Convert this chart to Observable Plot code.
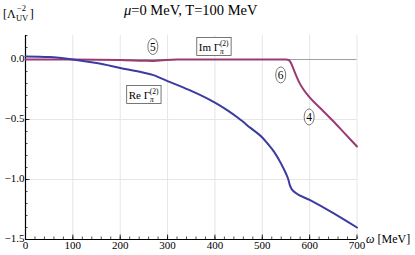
<!DOCTYPE html>
<html><head><meta charset="utf-8">
<script src="https://cdn.jsdelivr.net/npm/d3@7"></script>
<script src="https://cdn.jsdelivr.net/npm/@observablehq/plot@0.6"></script>
<style>body{margin:0;background:#fff}svg{display:block}</style>
</head><body><div id="chart"></div>
<script>
// Re Γπ(2) (blue)
const reOmega = [0, 50, 100, 150, 200, 250, 270, 300, 325, 350, 375, 400, 425, 450, 475, 500, 511, 525, 540, 550, 555, 558, 562, 570, 600, 650, 700];
const reValue = [0.025, 0.02, 0.0, -0.03, -0.07, -0.11, -0.13, -0.18, -0.22, -0.262, -0.308, -0.36, -0.42, -0.49, -0.57, -0.65, -0.70, -0.77, -0.87, -0.95, -1.0, -1.045, -1.08, -1.11, -1.17, -1.28, -1.40];
// Im Γπ(2) (purple)
const imOmega = [0, 100, 200, 250, 270, 290, 320, 400, 500, 550, 556, 560, 565, 570, 575, 580, 587, 600, 625, 650, 675, 700];
const imValue = [0, 0, -0.004, -0.01, -0.012, -0.006, 0, 0, 0, 0, -0.004, -0.025, -0.07, -0.12, -0.165, -0.205, -0.25, -0.315, -0.415, -0.515, -0.62, -0.725];
// ticks
const xTicks = [0, 100, 200, 300, 400, 500, 600, 700];
const xMinor = d3.range(0, 701, 20);
const yTicks = [0, -0.5, -1.0, -1.5];
const yMinor = d3.range(-15, 3, 1).map(d => d / 10);
// annotations (data coordinates)
const circleLabels = ["5", "6", "4"];
const circleOmega = [270, 540, 600];
const circleValue = [0.104, -0.133, -0.483];
const boxLabels = ["Im", "Re"];
const boxOmega = [399, 251];
const boxValue = [0.104, -0.296];

const re = reOmega.map((x, i) => ({x, y: reValue[i]}));
const im = imOmega.map((x, i) => ({x, y: imValue[i]}));
const W = 415, H = 255, mL = 25, mR = 58.5, mT = 35, mB = 16;
const pw = W - mL - mR, ph = H - mT - mB;
const font = "'Liberation Serif', 'Times New Roman', serif";

const plot = Plot.plot({
  width: W, height: H,
  marginLeft: mL, marginRight: mR, marginTop: mT, marginBottom: mB,
  style: {fontFamily: font, fontSize: "11px", background: "#fff"},
  x: {domain: [0, 700]},
  y: {domain: [-1.5, 0.2]},
  marks: [
    Plot.gridX(xTicks.slice(1), {stroke: "#e6e6e6", strokeOpacity: 1}),
    Plot.gridY([-0.5, -1.0], {stroke: "#e6e6e6", strokeOpacity: 1}),
    Plot.ruleY([0], {stroke: "#a0a0a0", strokeWidth: 1}),
    Plot.tickX(xMinor, {x: d => d, insetTop: ph - 2.5, stroke: "#000", strokeWidth: 0.7}),
    Plot.tickX(xTicks, {x: d => d, insetTop: ph - 4.5, stroke: "#000", strokeWidth: 0.8}),
    Plot.tickY(yMinor, {y: d => d, insetRight: pw - 2.5, stroke: "#000", strokeWidth: 0.7}),
    Plot.tickY(yTicks, {y: d => d, insetRight: pw - 4.5, stroke: "#000", strokeWidth: 0.8}),
    Plot.ruleX([0], {stroke: "#000", strokeWidth: 1.2}),
    Plot.ruleY([-1.5], {stroke: "#000", strokeWidth: 1.2}),
    Plot.axisX(xTicks, {tickSize: 0, tickPadding: 2, fontSize: 11, label: null, fill: "#000"}),
    Plot.axisY(yTicks, {tickSize: 0, tickPadding: 1, fontSize: 11, label: null, fill: "#000", dy: -1, tickFormat: d3.format(".1f")}),
    Plot.line(im, {x: "x", y: "y", stroke: "#9b3a70", strokeWidth: 2, curve: "monotone-x"}),
    Plot.line(re, {x: "x", y: "y", stroke: "#3b3ca0", strokeWidth: 2, curve: "monotone-x"})
  ]
});
document.getElementById("chart").appendChild(plot);
const svg = d3.select(plot);
const sx = plot.scale("x"), sy = plot.scale("y");
const txt = (x, y, size) => svg.append("text").attr("x", x).attr("y", y)
  .attr("text-anchor", "start").attr("font-family", font).attr("font-size", size)
  .attr("font-weight", "normal").attr("fill", "#000");

// title, centred over the plot frame
const title = txt(mL + pw / 2, 15, 14.5).attr("text-anchor", "middle");
title.append("tspan").attr("font-style", "italic").text("μ");
title.append("tspan").text("=0 MeV, T=100 MeV");

// y label [Λ_UV^-2]
const yl1 = txt(3, 18, 12).text("[Λ");
const e1 = yl1.node().getBBox();
const ylSub = txt(e1.x + e1.width, 21, 8.5).text("UV");
const ylSup = txt(e1.x + e1.width + 1, 11, 8.5).text("−2");
const e2 = ylSub.node().getBBox(), e3 = ylSup.node().getBBox();
txt(Math.max(e2.x + e2.width, e3.x + e3.width) + 0.5, 18, 12).text("]");

// x label
const xl = txt(366, 243, 12);
xl.append("tspan").attr("font-style", "italic").text("ω");
xl.append("tspan").text(" [MeV]");

// circle labels
circleLabels.forEach((t, i) => {
  const cx = sx.apply(circleOmega[i]), cy = sy.apply(circleValue[i]);
  svg.append("ellipse").attr("cx", cx).attr("cy", cy).attr("rx", 5).attr("ry", 8)
    .attr("fill", "#fff").attr("stroke", "#555").attr("stroke-width", 0.8);
  txt(cx, cy + 4, 11.5).attr("text-anchor", "middle").text(t);
});

// boxed labels
boxLabels.forEach((t, i) => {
  const cx = sx.apply(boxOmega[i]), cy = sy.apply(boxValue[i]);
  const rect = svg.append("rect").attr("fill", "#fff").attr("stroke", "#555").attr("stroke-width", 0.8);
  const tx = txt(cx, cy + 4, 11);
  tx.append("tspan").text(t + " Γ");
  tx.append("tspan").attr("font-size", 7.5).attr("font-style", "italic").attr("dy", 3).text("π");
  tx.append("tspan").attr("font-size", 7.5).attr("dy", -8).attr("dx", -4).text("(2)");
  const bb = tx.node().getBBox();
  tx.attr("x", cx - bb.width / 2);
  const b2 = tx.node().getBBox();
  rect.attr("x", b2.x - 2).attr("y", cy - 9).attr("width", b2.width + 4).attr("height", 18);
});
</script></body></html>
